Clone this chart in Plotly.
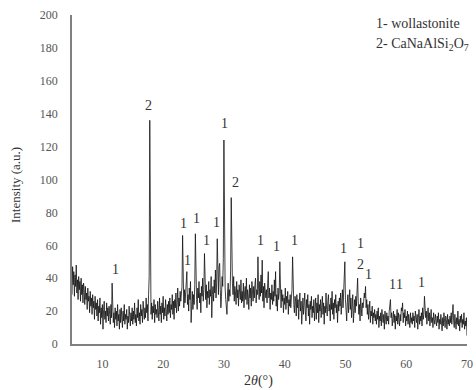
import numpy as np
import plotly.graph_objects as go

# 2-theta grid (degrees), step 0.1 from 5.0 to 70.0
two_theta = np.round(np.arange(5.0, 70.0001, 0.1), 1)

# Intensity (a.u.), 20 values per 2 degrees
intensity = [
    30, 47, 36, 44, 29, 42, 35, 48, 31, 39, 27, 41, 33, 38, 26, 40, 30, 36, 25, 37,   # 5.0-6.9
    33, 24, 35, 27, 31, 21, 34, 26, 29, 19, 32, 23, 28, 18, 30, 22, 26, 15, 29, 21,   # 7.0-8.9
    25, 17, 27, 14, 23, 19, 28, 12, 22, 16, 24, 9, 21, 26, 15, 20, 13, 25, 17, 22,    # 9.0-10.9
    14, 23, 18, 12, 24, 16, 37, 21, 13, 19, 10, 22, 15, 20, 11, 24, 14, 18, 9, 21,    # 11.0-12.9
    13, 22, 16, 10, 20, 14, 24, 12, 18, 15, 21, 9, 17, 13, 23, 16, 11, 19, 14, 22,    # 13.0-14.9
    12, 20, 15, 25, 13, 18, 11, 22, 16, 27, 14, 19, 12, 24, 17, 21, 13, 26, 18, 15,   # 15.0-16.9
    22, 16, 28, 19, 24, 14, 30, 41, 136, 33, 18, 25, 15, 23, 19, 27, 13, 24, 18, 21,  # 17.0-18.9
    16, 26, 20, 14, 28, 18, 23, 13, 25, 19, 29, 15, 22, 17, 27, 21, 14, 24, 18, 26,   # 19.0-20.9
    19, 28, 16, 24, 21, 30, 18, 26, 15, 27, 22, 31, 19, 25, 34, 20, 28, 23, 32, 26,   # 21.0-22.9
    29, 35, 66, 28, 22, 33, 25, 31, 37, 44, 24, 30, 20, 34, 27, 38, 13, 26, 32, 21,   # 23.0-24.9
    30, 24, 36, 67, 33, 27, 21, 34, 28, 38, 25, 31, 19, 35, 29, 40, 26, 33, 55, 30,   # 25.0-26.9
    27, 36, 22, 32, 28, 38, 24, 33, 29, 41, 16, 30, 35, 26, 39, 31, 45, 28, 37, 64,   # 27.0-28.9
    38, 30, 47, 49, 33, 22, 29, 41, 35, 52, 124, 60, 34, 27, 21, 18, 31, 37, 26, 33,  # 29.0-30.9
    29, 45, 89, 50, 37, 30, 41, 26, 35, 31, 24, 38, 28, 33, 23, 36, 30, 27, 39, 25,   # 31.0-32.9
    32, 26, 37, 22, 31, 35, 27, 40, 24, 33, 29, 21, 36, 28, 34, 23, 38, 30, 26, 35,   # 33.0-34.9
    28, 36, 40, 25, 33, 30, 53, 34, 27, 38, 29, 42, 31, 51, 26, 35, 22, 37, 30, 28,   # 35.0-36.9
    33, 25, 37, 44, 28, 34, 21, 31, 27, 36, 24, 32, 26, 39, 29, 44, 23, 30, 20, 34,   # 37.0-38.9
    27, 31, 50, 29, 22, 33, 26, 30, 19, 28, 24, 34, 21, 29, 25, 32, 18, 27, 23, 30,   # 39.0-40.9
    22, 28, 33, 53, 31, 24, 19, 29, 26, 17, 30, 22, 27, 15, 25, 31, 20, 26, 12, 23,   # 41.0-42.9
    28, 18, 25, 31, 20, 14, 27, 22, 30, 17, 24, 12, 26, 21, 29, 16, 23, 19, 27, 14,   # 43.0-44.9
    22, 28, 15, 25, 19, 30, 13, 24, 20, 27, 16, 22, 29, 18, 25, 12, 23, 19, 31, 21,   # 45.0-46.9
    17, 26, 30, 20, 24, 14, 28, 21, 32, 18, 25, 15, 27, 22, 30, 19, 24, 13, 26, 20,   # 47.0-48.9
    28, 23, 31, 18, 26, 33, 22, 29, 36, 50, 27, 20, 14, 25, 30, 19, 26, 33, 21, 28,   # 49.0-50.9
    16, 24, 30, 13, 22, 27, 19, 29, 23, 33, 40, 26, 18, 24, 14, 28, 21, 17, 25, 22,   # 51.0-52.9
    26, 31, 28, 35, 22, 27, 18, 24, 15, 21, 26, 13, 20, 17, 23, 12, 19, 16, 21, 14,   # 53.0-54.9
    18, 12, 20, 15, 22, 10, 17, 14, 19, 11, 21, 16, 13, 18, 9, 20, 15, 12, 19, 14,    # 55.0-56.9
    17, 12, 20, 23, 27, 16, 19, 11, 15, 20, 13, 18, 9, 17, 14, 21, 12, 19, 15, 11,    # 57.0-58.9
    18, 14, 22, 20, 25, 13, 19, 16, 21, 11, 17, 14, 20, 12, 18, 15, 10, 19, 13, 16,   # 59.0-60.9
    12, 19, 14, 17, 10, 20, 15, 13, 18, 9, 16, 21, 12, 17, 14, 19, 11, 22, 15, 18,    # 61.0-62.9
    29, 24, 16, 20, 12, 18, 22, 14, 19, 11, 17, 21, 13, 16, 10, 19, 15, 12, 18, 14,   # 63.0-64.9
    11, 17, 13, 19, 9, 15, 12, 18, 14, 8, 16, 11, 19, 13, 10, 17, 15, 9, 18, 12,      # 65.0-66.9
    15, 11, 17, 13, 19, 12, 16, 24, 14, 10, 18, 13, 9, 16, 12, 20, 11, 15, 8, 17,     # 67.0-68.9
    13, 18, 10, 15, 12, 19, 9, 14, 11, 16, 5,                                         # 69.0-70.0
]
assert len(intensity) == len(two_theta), (len(intensity), len(two_theta))

# Peak labels (phase number) and their positions
label_x = [12.1, 17.6, 23.4, 24.0, 25.5, 27.1, 28.8, 30.1, 31.9,
           36.0, 38.7, 41.6, 49.7, 52.4, 52.5, 53.8, 57.8, 58.9, 62.5]
label_y = [45, 145, 73.5, 51, 76.5, 63, 74, 134, 98,
           63, 59, 63, 58, 61, 48.6, 42, 36, 36, 37.6]
label_text = ["1", "2", "1", "1", "1", "1", "1", "1", "2",
              "1", "1", "1", "1", "1", "2", "1", "1", "1", "1"]

legend_lines = ["1- wollastonite", "2- CaNaAlSi<sub>2</sub>O<sub>7</sub>"]

x_ticks = [10, 20, 30, 40, 50, 60, 70]
y_ticks = [0, 20, 40, 60, 80, 100, 120, 140, 160, 180, 200]

FONT = "Liberation Serif"
L, R, T, B = 72, 467, 15, 344  # plot area in pixels

fig = go.Figure()
fig.add_trace(go.Scatter(
    x=two_theta, y=intensity, mode="lines",
    line=dict(color="#111111", width=0.8),
    showlegend=False, hoverinfo="skip",
))

for lx, ly, lt in zip(label_x, label_y, label_text):
    fig.add_annotation(x=lx, y=ly, text=lt, showarrow=False,
                       font=dict(family=FONT, size=14, color="#333333"),
                       xanchor="center", yanchor="middle")

for i, t in enumerate(legend_lines):
    fig.add_annotation(
        xref="paper", yref="paper", x=(374 - L) / (R - L),
        y=1 - (24 + 20 * i - T) / (B - T),
        text=t, showarrow=False, xanchor="left", yanchor="middle",
        font=dict(family=FONT, size=14, color="#333333"),
    )

fig.add_annotation(
    xref="paper", yref="paper", x=(258 - L) / (R - L), y=-(381 - B) / (B - T),
    text="2<i>θ</i>(°)", showarrow=False, xanchor="center", yanchor="middle",
    font=dict(family=FONT, size=14, color="#333333"),
)

fig.add_annotation(
    xref="paper", yref="paper", x=-(L - 15) / (R - L), y=1 - (185 - T) / (B - T),
    text="Intensity (a.u.)", showarrow=False, textangle=-90,
    xanchor="center", yanchor="middle",
    font=dict(family=FONT, size=13, color="#333333"),
)

fig.update_layout(
    width=476, height=390,
    margin=dict(l=L, r=476 - R, t=T, b=390 - B, autoexpand=False),
    paper_bgcolor="white", plot_bgcolor="white",
    font=dict(family=FONT, size=12, color="#555555"),
    xaxis=dict(range=[5, 70], tickvals=x_ticks, showgrid=False, zeroline=False,
               showline=True, linecolor="#808080", linewidth=1.5, ticks="",
               automargin=False, ticklabelstandoff=8,
               tickfont=dict(family=FONT, size=12, color="#555555")),
    yaxis=dict(range=[0, 200], tickvals=y_ticks, showgrid=False, zeroline=False,
               showline=True, linecolor="#808080", linewidth=1.5, ticks="",
               automargin=False, ticklabelstandoff=10,
               tickfont=dict(family=FONT, size=12, color="#555555")),
)

fig.write_html("out.html",
               config={"displayModeBar": False},
               post_script="document.body.style.margin='0';document.body.style.overflow='hidden';")
